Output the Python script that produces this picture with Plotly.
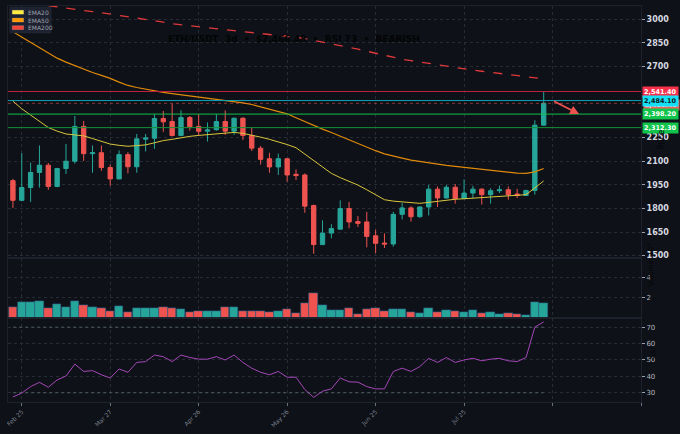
import plotly.graph_objects as go
import pandas as pd

# ---------------- data ----------------
dates = pd.date_range("2025-02-22", periods=61, freq="3D")

opens = [1976, 1851, 1932, 2028, 2074, 1939, 2053, 2099, 2320, 2147,
         2153, 2059, 1987, 2141, 2064, 2239, 2245, 2370, 2351, 2262,
         2376, 2320, 2290, 2299, 2351, 2290, 2372, 2262, 2182, 2115,
         2063, 2115, 2016, 2012, 1818, 1570, 1643, 1668, 1799, 1716,
         1714, 1626, 1580, 1574, 1762, 1803, 1747, 1809, 1922, 1866,
         1934, 1862, 1897, 1922, 1887, 1912, 1918, 1891, 1882, 1914,
         2328]
highs = [1987, 2151, 2091, 2199, 2088, 2057, 2209, 2386, 2355, 2199,
         2199, 2078, 2168, 2157, 2272, 2272, 2397, 2418, 2464, 2422,
         2386, 2397, 2345, 2397, 2422, 2376, 2378, 2313, 2195, 2153,
         2147, 2118, 2047, 2022, 1824, 1724, 1699, 1851, 1841, 1751,
         1778, 1664, 1641, 1778, 1835, 1814, 1812, 1949, 1939, 1949,
         1955, 1984, 1943, 1928, 1928, 1945, 1939, 1924, 1916, 2359,
         2541.40]
lows = [1803, 1845, 1841, 1932, 1918, 1934, 2018, 2084, 2101, 2026,
        2038, 1943, 1985, 2022, 2026, 2161, 2178, 2286, 2257, 2258,
        2293, 2262, 2224, 2293, 2266, 2266, 2234, 2164, 2078, 2026,
        2012, 1970, 1980, 1772, 1512, 1568, 1610, 1666, 1674, 1682,
        1553, 1516, 1549, 1557, 1730, 1716, 1741, 1755, 1809, 1864,
        1830, 1860, 1866, 1824, 1830, 1897, 1855, 1866, 1880, 1887,
        2328]
closes = [1851, 1932, 2028, 2074, 1939, 2053, 2099, 2320, 2147, 2153,
          2059, 1987, 2141, 2064, 2241, 2247, 2370, 2349, 2262, 2376,
          2318, 2289, 2298, 2351, 2290, 2372, 2262, 2182, 2111, 2063,
          2115, 2012, 2008, 1814, 1570, 1643, 1672, 1799, 1714, 1705,
          1622, 1578, 1574, 1762, 1803, 1747, 1809, 1922, 1866, 1934,
          1862, 1897, 1922, 1887, 1912, 1918, 1887, 1882, 1914, 2328,
          2466.48]

ema20 = [2480, 2432, 2392, 2352, 2313, 2290, 2272, 2266, 2260, 2243,
         2225, 2208, 2200, 2194, 2198, 2203, 2216, 2230, 2238, 2248,
         2257, 2263, 2268, 2274, 2279, 2282, 2276, 2266, 2252, 2238,
         2222, 2205, 2185, 2145, 2100, 2060, 2022, 1995, 1972, 1948,
         1918, 1885, 1855, 1846, 1840, 1834, 1832, 1838, 1845, 1852,
         1858, 1861, 1865, 1869, 1874, 1878, 1881, 1884, 1887, 1930,
         1974]
ema50 = [2920, 2887, 2853, 2820, 2787, 2753, 2728, 2705, 2683, 2662,
         2644, 2625, 2601, 2580, 2567, 2556, 2545, 2536, 2528, 2521,
         2514, 2507, 2500, 2492, 2484, 2476, 2469, 2459, 2444, 2428,
         2416, 2400, 2375, 2350, 2325, 2303, 2281, 2258, 2234, 2209,
         2188, 2166, 2146, 2131, 2119, 2106, 2097, 2087, 2080, 2073,
         2067, 2061, 2055, 2048, 2042, 2036, 2029, 2024, 2022, 2032,
         2053]
ema200 = [3116, 3108, 3100, 3092, 3085, 3078, 3070, 3063, 3055, 3048,
          3041, 3033, 3025, 3017, 3008, 3000, 2991, 2982, 2972, 2965,
          2959, 2952, 2946, 2940, 2934, 2928, 2921, 2915, 2909, 2903,
          2897, 2892, 2887, 2877, 2866, 2856, 2845, 2835, 2822, 2810,
          2797, 2784, 2771, 2758, 2746, 2737, 2728, 2719, 2711, 2702,
          2694, 2686, 2677, 2670, 2663, 2656, 2649, 2642, 2635, 2628,
          2622]

volume = [11300, 15900, 15900, 16800, 9800, 13600, 11300, 16500, 12700, 10400,
          9400, 7200, 12000, 5600, 9800, 9800, 9800, 10400, 9800, 8800,
          5600, 6500, 7200, 6500, 11300, 10400, 7200, 7200, 7200, 6200,
          7200, 8800, 5000, 15200, 24500, 13000, 7500, 7500, 9800, 4000,
          8800, 9800, 6500, 8800, 8500, 6200, 4600, 9800, 5600, 7500,
          6500, 5600, 7500, 4600, 5600, 4000, 4600, 4000, 3000, 16200,
          14600]

rsi = [27.5, 29.8, 33.8, 36.4, 33.4, 37.8, 40.2, 47.5, 43.0, 43.5,
       41.0, 39.0, 44.5, 42.5, 48.5, 49.0, 53.0, 52.0, 49.0, 53.0,
       51.5, 50.5, 50.5, 52.0, 50.0, 53.0, 48.5, 45.0, 42.5, 41.0,
       43.0, 39.5, 39.5, 32.0, 27.2, 31.0, 32.4, 39.0, 36.7, 36.5,
       33.8, 32.4, 32.4, 43.0, 45.0, 43.0, 46.0, 51.0, 48.5, 51.5,
       48.5, 50.0, 51.0, 49.5, 50.5, 51.0, 49.5, 49.0, 51.5, 70.0,
       73.2]

levels = [2541.40, 2484.10, 2398.20, 2312.30]
level_line_colors = ["#c2223f", "#0fa3b8", "#12c24a", "#13923a"]
level_label_bg = ["#f7314c", "#16e0f5", "#10c44c", "#10c44c"]
level_label_fg = ["#ffffff", "#0b1a22", "#ffffff", "#ffffff"]

tick_dates = ["2025-02-25", "2025-03-27", "2025-04-26", "2025-05-26",
              "2025-06-25", "2025-07-25", "2025-08-24", "2025-09-23"]
tick_text = ["Feb 25", "Mar 27", "Apr 26", "May 26", "Jun 25", "Jul 25", " ", " "]
price_ticks = [1500, 1650, 1800, 1950, 2100, 2250, 2700, 2850, 3000]
volume_ticks = [20000, 40000]
volume_tick_text = ["2", "4"]
rsi_ticks = [30, 40, 50, 60, 70]

# ---------------- style ----------------
BG = "#0e1117"
UP = "#26a69a"
DN = "#ef5350"
GRID = "#262b36"
FONT = "DejaVu Sans"

W, H = 680, 434
L, R, T, B = 5, 39, 5, 27
PW, PH = W - L - R, H - T - B


def pxx(px):
    return (px - L) / PW


def pxy(py):
    return (H - B - py) / PH


fig = go.Figure()

fig.add_trace(go.Candlestick(
    x=dates, open=opens, high=highs, low=lows, close=closes,
    increasing=dict(line=dict(color=UP, width=1), fillcolor=UP),
    decreasing=dict(line=dict(color=DN, width=1), fillcolor=DN),
    whiskerwidth=0, showlegend=False, xaxis="x", yaxis="y", hoverinfo="skip"))

fig.add_trace(go.Scatter(x=dates, y=ema20, mode="lines",
                         line=dict(color="#d9c63d", width=1),
                         showlegend=False, xaxis="x", yaxis="y"))
fig.add_trace(go.Scatter(x=dates, y=ema50, mode="lines",
                         line=dict(color="#e08a0b", width=1.2),
                         showlegend=False, xaxis="x", yaxis="y"))
fig.add_trace(go.Scatter(x=dates, y=ema200, mode="lines",
                         line=dict(color="#e0393b", width=1.3, dash="dash"),
                         showlegend=False, xaxis="x", yaxis="y"))

vol_colors = [UP if c >= o else DN for o, c in zip(opens, closes)]
fig.add_trace(go.Bar(x=dates, y=volume, marker=dict(color=vol_colors,
                     line=dict(color="#2b5f86", width=0.6)),
                     width=3 * 86400000 * 0.95, showlegend=False,
                     xaxis="x2", yaxis="y2"))

fig.add_trace(go.Scatter(x=dates, y=rsi, mode="lines",
                         line=dict(color="#a547b8", width=1),
                         showlegend=False, xaxis="x3", yaxis="y3"))

x_range = ["2025-02-20 08:00", "2025-09-23 00:00"]
xcommon = dict(range=x_range, tickvals=tick_dates, showgrid=True,
               gridcolor=GRID, griddash="dot", gridwidth=1, zeroline=False,
               showline=True, linecolor="#1d212b", mirror=True)
ycommon = dict(side="right", showgrid=True, gridcolor=GRID, griddash="dot",
               zeroline=False, ticks="outside", ticklen=3, tickcolor="#9aa0ab",
               showline=True, linecolor="#1d212b", mirror=True)

fig.update_layout(
    width=W, height=H, margin=dict(l=L, r=R, t=T, b=B),
    paper_bgcolor=BG, plot_bgcolor=BG,
    font=dict(family=FONT, color="#b2b5be"),
    showlegend=False, bargap=0,
    xaxis=dict(**xcommon, anchor="y", showticklabels=False,
               rangeslider=dict(visible=False)),
    xaxis2=dict(**xcommon, anchor="y2", matches="x", showticklabels=False),
    xaxis3=dict(**xcommon, anchor="y3", matches="x", ticktext=tick_text,
                tickangle=-45, ticks="outside", ticklen=3, tickcolor="#6b7080",
                tickfont=dict(size=6, color="#7d8290")),
    yaxis=dict(**ycommon, domain=[pxy(261), 1], range=[1484, 3084],
               tickvals=price_ticks,
               tickfont=dict(size=8, color="#d6d9e0", weight="bold")),
    yaxis2=dict(**ycommon, domain=[pxy(322), pxy(261)], range=[0, 58700],
                tickvals=volume_ticks, ticktext=volume_tick_text,
                tickfont=dict(size=7, color="#b2b5be")),
    yaxis3=dict(**ycommon, domain=[0, pxy(322)], range=[24.4, 75.4],
                tickvals=rsi_ticks, tickfont=dict(size=7, color="#b2b5be")),
)

shapes = []
# horizontal levels
for lv, col in zip(levels, level_line_colors):
    shapes.append(dict(type="line", xref="x domain", yref="y", x0=0, x1=1,
                       y0=lv, y1=lv, line=dict(color=col, width=1)))
# current price dotted line
shapes.append(dict(type="line", xref="x domain", yref="y", x0=0, x1=1,
                   y0=closes[-1], y1=closes[-1],
                   line=dict(color="rgba(239,83,80,0.55)", width=1, dash="dot")))
# RSI 70 / 30 reference lines
for lv in (70, 30):
    shapes.append(dict(type="line", xref="x3", yref="y3", x0=dates[0], x1=dates[-1],
                       y0=lv, y1=lv,
                       line=dict(color="rgba(120,140,150,0.55)", width=1, dash="dot")))

# legend box (manual)
shapes.append(dict(type="rect", xref="paper", yref="paper",
                   x0=pxx(6.7), x1=pxx(48.3), y0=pxy(32.3), y1=pxy(6),
                   fillcolor="#1d2130", line=dict(color="#2a2f3d", width=0.5)))
legend_items = [("EMA20", "#ffeb3b", 11.3), ("EMA50", "#ff9800", 19.3),
                ("EMA200", "#f44336", 27.0)]
for name, col, cy in legend_items:
    shapes.append(dict(type="rect", xref="paper", yref="paper",
                       x0=pxx(9.3), x1=pxx(20.7), y0=pxy(cy + 2), y1=pxy(cy - 2),
                       fillcolor=col, line=dict(color="rgba(255,255,255,0.35)", width=0.5)))
fig.update_layout(shapes=shapes)

ann = []
for name, col, cy in legend_items:
    ann.append(dict(xref="paper", yref="paper", x=pxx(23), y=pxy(cy),
                    xanchor="left", yanchor="middle", text=name, showarrow=False,
                    font=dict(size=6, color="#9ea2ad", family=FONT)))

# current price label (hidden behind)
ann.append(dict(xref="paper", yref="y", x=pxx(643.5), y=closes[-1] - 8,
                xanchor="left", yanchor="middle", text=f"{closes[-1]:,.2f}",
                showarrow=False, bgcolor="#f0645f", borderpad=1,
                font=dict(size=6.5, color="#ffffff", family=FONT, weight="bold")))
for lv, bg, fg in zip(levels, level_label_bg, level_label_fg):
    ann.append(dict(xref="paper", yref="y", x=pxx(642.5), y=lv,
                    xanchor="left", yanchor="middle", text=f"{lv:,.2f}",
                    showarrow=False, bgcolor=bg, borderpad=1,
                    font=dict(size=6.5, color=fg, family=FONT, weight="bold")))

# projection arrow from level 2 to level 3
ann.append(dict(x=pd.Timestamp("2025-09-02"), y=levels[2], xref="x", yref="y",
                ax=pd.Timestamp("2025-08-24"), ay=levels[1], axref="x", ayref="y",
                showarrow=True, arrowhead=2, arrowsize=1, arrowwidth=1.8,
                arrowcolor="#ef5350", text=""))

# title
ann.append(dict(xref="paper", yref="paper", x=pxx(292), y=pxy(38),
                xanchor="center", yanchor="middle", showarrow=False,
                text=f"ETH/USDT  3d  •  ${closes[-1]:,.2f}  •  RSI {rsi[-1]:.0f}  •  BEARISH",
                font=dict(size=9, color="#030405", family=FONT, weight="bold")))

# axis titles (dark)
ann.append(dict(xref="paper", yref="paper", x=pxx(669), y=pxy(140),
                textangle=-90, text="Price", showarrow=False,
                font=dict(size=8, color="#050608", family=FONT)))
ann.append(dict(xref="paper", yref="paper", x=pxx(657), y=pxy(291),
                textangle=-90, text="Volume  10<sup>4</sup>", showarrow=False,
                font=dict(size=7, color="#050608", family=FONT)))
ann.append(dict(xref="paper", yref="paper", x=pxx(660), y=pxy(365),
                textangle=-90, text="RSI", showarrow=False,
                font=dict(size=7, color="#050608", family=FONT)))

fig.update_layout(annotations=ann)

fig.write_html("out.html")
